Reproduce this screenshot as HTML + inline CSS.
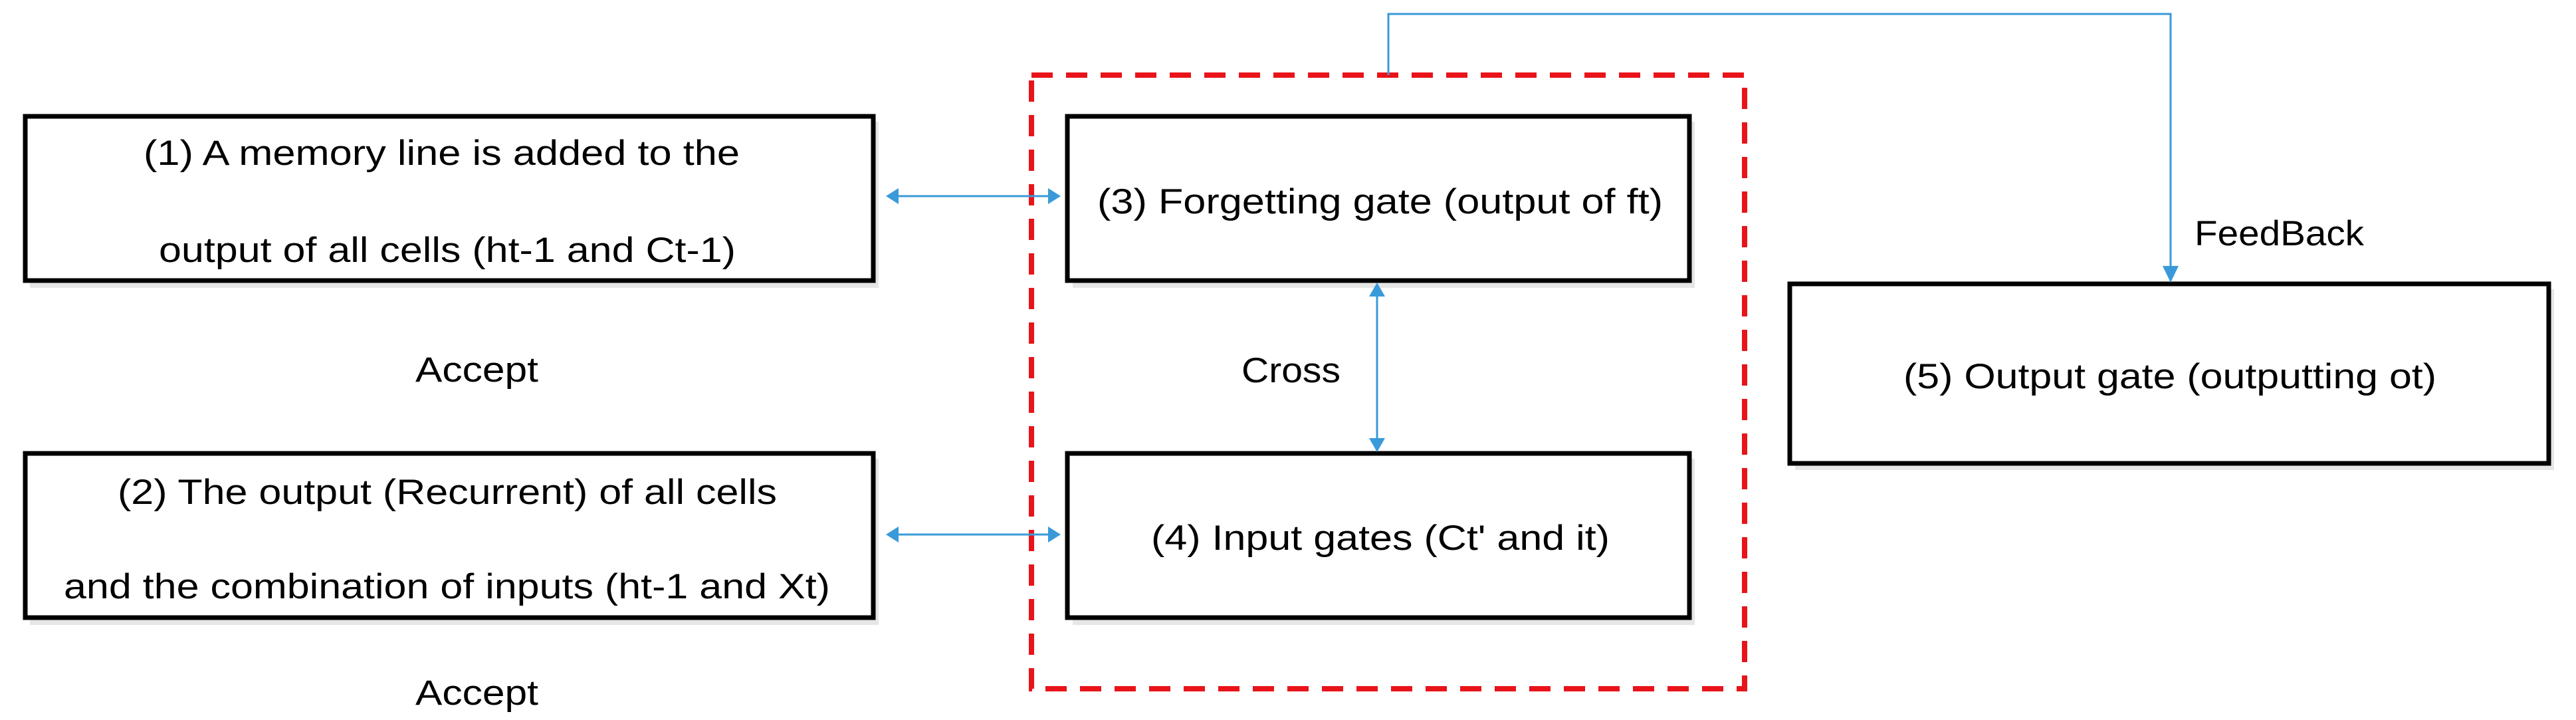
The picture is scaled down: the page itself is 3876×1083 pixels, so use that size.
<!DOCTYPE html>
<html><head><meta charset="utf-8"><style>
html,body{margin:0;padding:0;background:#fff;}
svg{display:block;}
text{font-family:"Liberation Sans",sans-serif;font-size:53px;fill:#000;}
</style></head><body>
<svg width="3876" height="1083" viewBox="0 0 3876 1083" xmlns="http://www.w3.org/2000/svg">
<g fill="#e6e6e6">
<rect x="45" y="183" width="1277" height="250"/>
<rect x="45" y="690" width="1277" height="250"/>
<rect x="1614" y="183" width="936" height="250"/>
<rect x="1614" y="690" width="936" height="250"/>
<rect x="2701" y="435" width="1142" height="272"/>
</g>
<g fill="#fff" stroke="#000" stroke-width="7">
<rect x="38" y="175" width="1276" height="247"/>
<rect x="38" y="682" width="1276" height="247"/>
<rect x="1606" y="175" width="936" height="247"/>
<rect x="1606" y="682" width="936" height="247"/>
<rect x="2693" y="427" width="1142" height="270"/>
</g>
<rect x="1552" y="113" width="1073" height="923" fill="none" stroke="#e8141a" stroke-width="8" stroke-dasharray="32 20"/>
<g stroke="#3a9ad9" stroke-width="3" fill="none">
<line x1="1345" y1="295" x2="1584" y2="295"/>
<line x1="1345" y1="804" x2="1584" y2="804"/>
<line x1="2072" y1="440" x2="2072" y2="665"/>
<polyline points="2089,113 2089,21 3266,21 3266,410"/>
</g>
<g fill="#3a9ad9">
<polygon points="1333,295 1352,283 1352,307"/>
<polygon points="1596,295 1577,283 1577,307"/>
<polygon points="1333,804 1352,792 1352,816"/>
<polygon points="1596,804 1577,792 1577,816"/>
<polygon points="2072,425 2060,446 2084,446"/>
<polygon points="2072,680 2060,659 2084,659"/>
<polygon points="3266,425 3254,400 3278,400"/>
</g>
<text x="216" y="248" textLength="897" lengthAdjust="spacingAndGlyphs">(1) A memory line is added to the</text>
<text x="239" y="394" textLength="868" lengthAdjust="spacingAndGlyphs">output of all cells (ht-1 and Ct-1)</text>
<text x="177" y="758" textLength="992" lengthAdjust="spacingAndGlyphs">(2) The output (Recurrent) of all cells</text>
<text x="96" y="900" textLength="1153" lengthAdjust="spacingAndGlyphs">and the combination of inputs (ht-1 and Xt)</text>
<text x="625" y="574" textLength="185" lengthAdjust="spacingAndGlyphs">Accept</text>
<text x="625" y="1060" textLength="185" lengthAdjust="spacingAndGlyphs">Accept</text>
<text x="1651" y="321" textLength="851" lengthAdjust="spacingAndGlyphs">(3) Forgetting gate (output of ft)</text>
<text x="1732" y="827" textLength="690" lengthAdjust="spacingAndGlyphs">(4) Input gates (Ct' and it)</text>
<text x="1868" y="575" textLength="149" lengthAdjust="spacingAndGlyphs">Cross</text>
<text x="3302" y="369" textLength="255" lengthAdjust="spacingAndGlyphs">FeedBack</text>
<text x="2864" y="584" textLength="802" lengthAdjust="spacingAndGlyphs">(5) Output gate (outputting ot)</text>
</svg>
</body></html>
